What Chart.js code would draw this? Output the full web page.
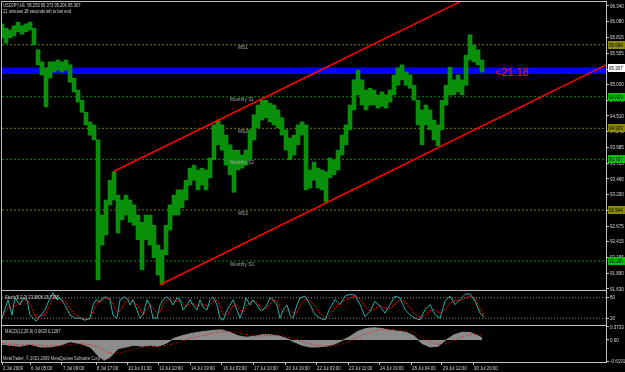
<!DOCTYPE html>
<html>
<head>
<meta charset="utf-8">
<script src="https://cdn.jsdelivr.net/npm/chart.js@4.4.1/dist/chart.umd.min.js"></script>
<style>
html, body { margin: 0; padding: 0; background: #000; }
#wrap { position: relative; width: 625px; height: 372px; background: #000; overflow: hidden; }
canvas { position: absolute; left: 0; }
</style>
</head>
<body>
<div id="wrap">
    <canvas id="mainChart" width="625" height="292" style="top:0px"></canvas>
    <canvas id="stochChart" width="625" height="36" style="top:290px"></canvas>
    <canvas id="macdChart" width="625" height="47" style="top:325px"></canvas>
</div>
<script>
// ---- price (H1 bars, sampled every 4 bars: bar index, high, low) ----
const priceBars = [0,4,8,12,16,20,24,28,32,36,40,44,48,52,56,60,64,68,72,76,80,84,88,92,96,100,104,108,112,116,
    120,124,128,132,136,140,144,148,152,156,160,164,168,172,176,180,184,188,192,196,200,204,208,212,216,220,224,228,232,236,
    240,244,248,252,256,260,264,268,272,276,280,284,288,292,296,300,304,308,312,316,320,324,328,332,336,340,344,348,352,356,
    360,364,368,372,376,380,384,388,392,396,400,404,408,412,416,420,424,428,432,436,440,444,448,452,456,460,464,468,472,476,480];
const priceHigh = [96.04,95.97,95.94,96.01,96.07,96.01,96.04,96.07,95.97,95.61,95.41,95.31,95.41,95.41,95.44,95.41,95.44,95.36,95.14,94.94,
    94.77,94.57,94.41,94.36,94.11,92.86,93.11,93.44,93.58,93.19,93.11,93.19,93.11,93.03,92.86,92.74,92.86,92.86,92.69,92.36,
    92.28,92.69,93.03,93.19,93.28,93.28,93.44,93.64,93.69,93.61,93.64,93.61,93.81,94.36,94.44,94.36,94.19,94.03,93.94,93.94,
    93.86,93.94,94.28,94.53,94.69,94.77,94.77,94.72,94.69,94.61,94.48,94.28,94.14,94.19,94.36,94.41,94.36,93.61,93.74,93.64,
    93.61,93.58,93.81,93.78,93.94,94.19,94.36,94.69,95.11,95.27,95.11,94.94,94.97,94.94,94.86,94.91,94.86,94.94,95.19,95.31,
    95.36,95.24,95.19,95.02,94.77,94.61,94.69,94.61,94.44,94.36,94.77,95.02,95.32,95.11,95.19,95.11,95.52,95.86,95.69,95.61,95.44];
const priceLow = [95.81,95.72,95.81,95.84,95.91,95.87,95.91,95.94,95.69,95.36,95.19,94.66,95.14,95.24,95.27,95.24,95.27,95.07,94.91,94.74,
    94.57,94.36,94.19,94.11,91.78,92.36,92.53,93.03,93.11,92.56,92.78,92.86,92.74,92.69,92.45,91.95,92.45,92.36,92.15,91.86,
    91.70,92.20,92.61,92.86,92.86,92.98,93.11,93.36,93.44,93.28,93.36,93.28,93.48,93.78,94.03,93.94,93.69,93.53,93.24,93.61,
    93.64,93.69,93.78,94.11,94.31,94.44,94.48,94.41,94.36,94.31,94.19,93.94,93.78,93.86,94.03,94.19,93.28,93.31,93.44,93.31,
    93.28,93.08,93.48,93.53,93.61,93.86,94.03,94.28,94.61,94.86,94.69,94.61,94.69,94.69,94.64,94.67,94.64,94.74,94.86,95.02,
    95.11,95.02,94.97,94.77,94.36,94.03,94.36,94.28,94.11,94.01,94.28,94.69,94.86,94.86,94.91,94.86,95.02,95.44,95.41,95.36,95.24];
const lastPrice = 95.307;

// ---- right axis ----
const yTickValues = [96.340,96.080,95.815,95.555,95.290,95.030,94.770,94.510,94.245,93.985,93.725,93.460,93.200,92.935,92.675,92.415,92.155,91.890,91.630];

// ---- monthly pivot levels ----
const levelNames = ["MS1", "Monthly S1", "MS2", "Monthly S2", "MS3", "Monthly S3"];
const levelValues = [95.694, 94.829, 94.303, 93.787, 92.944, 92.095];
const levelKinds = ["ms", "monthly", "ms", "monthly", "ms", "monthly"];

// ---- blue zone and channel ----
const zoneTop = 95.315;
const zoneBottom = 95.207;
const channelUpper = [{ bar: 111, price: 93.58 }, { bar: 604, price: 97.60 }];
const channelLower = [{ bar: 158, price: 91.70 }, { bar: 604, price: 95.36 }];

// ---- time axis ----
const xTickBars = [0, 28, 60, 94, 125, 156, 188, 220, 251, 283, 314, 346, 377, 409, 440, 471];
const xTickLabels = ["2 Jul 2009", "6 Jul 05:00", "7 Jul 09:00", "8 Jul 17:00", "10 Jul 01:00", "13 Jul 10:00",
    "14 Jul 19:00", "16 Jul 03:00", "17 Jul 10:00", "20 Jul 19:00", "22 Jul 03:00", "23 Jul 11:00",
    "24 Jul 19:00", "28 Jul 04:00", "29 Jul 12:00", "30 Jul 20:00"];

// ---- stochastic (5,3,3) ----
const stochBars = [0,6,10,13,18,21,25,28,31,34,43,48,51,55,58,63,68,73,78,83,88,91,94,98,101,104,108,111,115,118,
    123,126,128,131,135,138,141,145,148,151,155,158,161,165,168,171,175,178,181,185,188,191,195,198,201,205,208,211,215,218,
    221,225,228,231,235,238,241,244,248,251,255,258,261,265,268,271,275,278,281,285,288,291,295,298,303,308,313,318,323,328,
    333,338,343,348,353,358,363,368,373,378,383,388,393,398,403,408,413,418,423,428,433,438,443,448,453,458,463,468,473,478,482];
const stochMain = [20,74,29,80,59,80,74,29,20,11,44,80,95,74,80,59,29,20,20,14,20,59,74,68,80,83,74,29,20,74,
    83,74,59,74,44,20,29,74,59,20,20,59,74,83,74,59,80,74,44,59,74,59,44,74,53,44,74,83,59,20,
    14,44,59,74,44,20,44,80,59,74,59,44,44,59,80,74,59,20,44,59,29,20,59,80,85,60,30,20,15,50,
    75,60,85,90,88,60,25,40,70,55,35,60,85,80,45,30,20,15,45,60,30,20,70,85,60,75,90,92,70,35,23];
const stochSignal = [25,50,55,55,65,70,75,60,40,22,30,60,82,82,78,70,48,30,22,18,17,40,60,70,74,78,78,60,40,40,
    65,78,72,68,60,45,30,45,60,50,35,40,60,75,78,70,70,72,62,55,62,64,55,58,62,55,58,70,72,55,
    32,28,40,58,58,45,34,55,66,70,65,55,48,50,62,72,70,50,38,44,42,35,38,60,75,72,55,35,22,28,
    50,65,72,80,85,78,55,40,48,58,50,48,62,75,68,50,32,22,28,42,45,35,45,65,72,72,78,85,78,48,26];
const stochLevels = [20, 80];

// ---- MACD (12,26,9) ----
const macdBars = [0,8,18,28,38,48,58,68,78,88,96,102,108,116,124,132,140,148,156,164,
    172,180,188,196,204,212,220,228,236,244,252,260,268,276,284,292,300,308,316,324,
    332,340,348,356,364,372,380,388,396,404,412,420,428,436,444,452,460,468,476,480];
const macdMain = [-0.12,-0.15,-0.18,-0.12,-0.20,-0.20,-0.15,-0.05,-0.10,-0.20,-0.45,-0.58,-0.50,-0.25,-0.20,-0.15,-0.18,-0.15,-0.18,-0.10,
    0.05,0.12,0.18,0.22,0.25,0.28,0.29,0.22,0.12,0.08,0.10,0.15,0.15,0.12,0.05,-0.05,-0.15,-0.20,-0.20,-0.18,
    -0.12,-0.02,0.10,0.25,0.33,0.35,0.33,0.28,0.25,0.22,0.12,-0.10,-0.20,-0.18,0.00,0.15,0.22,0.22,0.12,0.06];
const macdSignal = [-0.10,-0.12,-0.14,-0.14,-0.15,-0.17,-0.17,-0.13,-0.11,-0.13,-0.20,-0.30,-0.38,-0.38,-0.33,-0.27,-0.22,-0.19,-0.18,-0.16,
    -0.10,-0.03,0.04,0.10,0.15,0.20,0.24,0.25,0.21,0.16,0.12,0.12,0.13,0.13,0.10,0.04,-0.04,-0.11,-0.16,-0.18,
    -0.16,-0.11,-0.03,0.08,0.18,0.26,0.30,0.31,0.29,0.26,0.20,0.08,-0.05,-0.13,-0.10,-0.02,0.08,0.16,0.15,0.13];
const macdTickValues = [0.3733, 0, -0.6191];
const macdTickLabels = ["0.3733", "0.00", "-0.6191"];

const LAST_BAR = 604;
const AXIS_GREY = "#c0c0c0";
const TEXT = "#d8d8d8";

function lineAcross(value) {
    return [{ x: 0, y: value }, { x: LAST_BAR, y: value }];
}

// MetaTrader's tiny, narrow system font: squeeze Liberation Sans horizontally
function smallText(ctx, text, x, y, color, squeeze) {
    ctx.save();
    ctx.translate(x, y);
    ctx.scale(squeeze || 0.7, 1);
    ctx.fillStyle = color;
    ctx.font = "6px 'Liberation Sans', sans-serif";
    ctx.textBaseline = "middle";
    ctx.textAlign = "left";
    ctx.fillText(text, 0, 0);
    ctx.restore();
}

const framePlugin = {
    id: "frame",
    afterDraw(chart) {
        const a = chart.chartArea;
        const ctx = chart.ctx;
        ctx.save();
        ctx.strokeStyle = AXIS_GREY;
        ctx.lineWidth = 1;
        ctx.strokeRect(a.left - 0.5, a.top - 0.5, a.right - a.left + 1, a.bottom - a.top + 1);
        ctx.restore();
    }
};

// right-axis labels drawn from the scale's own ticks
const rightLabels = {
    id: "rightLabels",
    afterDraw(chart, args, opts) {
        const ys = chart.scales.y;
        const ctx = chart.ctx;
        ys.ticks.forEach((t, i) => {
            const text = opts.labels ? opts.labels[i] : t.value.toFixed(3);
            smallText(ctx, text, chart.chartArea.right + 4, ys.getPixelForValue(t.value), TEXT, 0.75);
        });
    }
};

const mainOverlay = {
    id: "mainOverlay",
    afterDraw(chart) {
        const ctx = chart.ctx;
        const xs = chart.scales.x;
        const ys = chart.scales.y;
        const a = chart.chartArea;

        levelNames.forEach((name, i) => {
            const y = ys.getPixelForValue(levelValues[i]) + 3;
            const x = levelKinds[i] === "ms" ? xs.getPixelForValue(236) : xs.getPixelForValue(228);
            smallText(ctx, name, x, y, "#a8a8a8", 0.8);
        });

        const tag = (value, text, bg, fg) => {
            const y = Math.round(ys.getPixelForValue(value));
            ctx.fillStyle = bg;
            ctx.fillRect(a.right + 2, y - 4, 19, 8);
            smallText(ctx, text, a.right + 3, y, fg, 0.75);
        };
        levelValues.forEach((v, i) => {
            tag(v, v.toFixed(3), levelKinds[i] === "ms" ? "#8a8a00" : "#00c000", "#000");
        });
        tag(lastPrice, lastPrice.toFixed(3), "#ffffff", "#000");

        ctx.save();
        ctx.fillStyle = "#ff1a1a";
        ctx.font = "11px 'Liberation Sans', sans-serif";
        ctx.textBaseline = "middle";
        ctx.fillText("<21:18", xs.getPixelForValue(493), ys.getPixelForValue(zoneBottom) - 1);
        ctx.restore();

        smallText(ctx, "USDJPY,H1  95.253 95.373 95.206 95.307", 3, 5, TEXT, 0.68);
        smallText(ctx, "21 minutes 18 seconds left to bar end", 3, 11, TEXT, 0.68);
    }
};

const xScaleHidden = { type: "linear", min: 0, max: LAST_BAR, offset: false, display: false };

function rightAxis(min, max, values) {
    return {
        position: "right", min: min, max: max,
        afterFit: s => { s.width = 19; },
        afterBuildTicks: s => { s.ticks = values.map(v => ({ value: v })); },
        ticks: { display: false },
        grid: { drawOnChartArea: false, color: AXIS_GREY, tickLength: 3 },
        border: { color: AXIS_GREY }
    };
}

new Chart(document.getElementById("mainChart"), {
    data: {
        datasets: [
            {
                type: "line", data: lineAcross(zoneTop), borderWidth: 0, pointRadius: 0,
                backgroundColor: "#0000ff", fill: "+1", order: 5
            },
            { type: "line", data: lineAcross(zoneBottom), borderWidth: 0, pointRadius: 0, fill: false, order: 5 },
            ...levelValues.map((v, i) => ({
                type: "line", data: lineAcross(v), pointRadius: 0, borderWidth: 1,
                borderColor: levelKinds[i] === "ms" ? "#7a7a00" : "#009000",
                borderDash: [2, 2], order: 4
            })),
            {
                type: "bar",
                data: priceBars.map((b, i) => ({ x: b, y: [priceLow[i], priceHigh[i]] })),
                backgroundColor: "#0a8f0a", barThickness: 4, order: 2
            },
            {
                type: "line", data: channelUpper.map(p => ({ x: p.bar, y: p.price })),
                borderColor: "#ff0000", borderWidth: 1.5, pointRadius: 0, order: 1
            },
            {
                type: "line", data: channelLower.map(p => ({ x: p.bar, y: p.price })),
                borderColor: "#ff0000", borderWidth: 1.5, pointRadius: 0, order: 1
            }
        ]
    },
    options: {
        responsive: false,
        animation: false,
        layout: { padding: { left: 2, top: 2, right: 0, bottom: 2 } },
        plugins: { legend: { display: false }, tooltip: { enabled: false } },
        scales: {
            x: xScaleHidden,
            y: rightAxis(91.613, 96.405, yTickValues)
        }
    },
    plugins: [framePlugin, rightLabels, mainOverlay]
});

new Chart(document.getElementById("stochChart"), {
    data: {
        datasets: [
            ...stochLevels.map(v => ({
                type: "line", data: lineAcross(v), borderColor: "#8a8a8a", borderWidth: 1,
                borderDash: [1, 2], pointRadius: 0
            })),
            {
                type: "line", data: stochBars.map((b, i) => ({ x: b, y: stochMain[i] })),
                borderColor: "#20b2aa", borderWidth: 1, pointRadius: 0
            },
            {
                type: "line", data: stochBars.map((b, i) => ({ x: b, y: stochSignal[i] })),
                borderColor: "#ff0000", borderWidth: 1, borderDash: [2, 1], pointRadius: 0
            }
        ]
    },
    options: {
        responsive: false,
        animation: false,
        layout: { padding: { left: 2, top: 1, right: 0, bottom: 1 } },
        plugins: {
            legend: { display: false }, tooltip: { enabled: false },
            rightLabels: { labels: ["80", "20"] }
        },
        scales: {
            x: xScaleHidden,
            y: rightAxis(0, 100, [80, 20])
        }
    },
    plugins: [framePlugin, rightLabels, {
        id: "stochLabel",
        afterDraw(chart) {
            smallText(chart.ctx, "Stoch(5,3,3) 23.0806 25.7365", 5, chart.chartArea.top + 6, TEXT, 0.68);
        }
    }]
});

new Chart(document.getElementById("macdChart"), {
    data: {
        datasets: [
            {
                type: "line", data: macdBars.map((b, i) => ({ x: b, y: macdMain[i] })),
                borderColor: "#8c8c8c", borderWidth: 1, backgroundColor: "#8c8c8c",
                fill: "origin", pointRadius: 0, order: 2
            },
            {
                type: "line", data: macdBars.map((b, i) => ({ x: b, y: macdSignal[i] })),
                borderColor: "#ff0000", borderWidth: 1, borderDash: [1, 2], pointRadius: 0, order: 1
            }
        ]
    },
    options: {
        responsive: false,
        animation: false,
        layout: { padding: { left: 2, top: 1, right: 0, bottom: 0 } },
        plugins: {
            legend: { display: false }, tooltip: { enabled: false },
            rightLabels: { labels: macdTickLabels }
        },
        scales: {
            x: {
                type: "linear", min: 0, max: LAST_BAR, offset: false,
                afterFit: s => { s.height = 10; },
                afterBuildTicks: s => { s.ticks = xTickBars.map(v => ({ value: v })); },
                ticks: { display: false },
                grid: { drawOnChartArea: false, color: AXIS_GREY, tickLength: 3 },
                border: { color: AXIS_GREY }
            },
            y: rightAxis(-0.633, 0.402, macdTickValues)
        }
    },
    plugins: [framePlugin, rightLabels, {
        id: "macdLabels",
        afterDraw(chart) {
            const ctx = chart.ctx;
            const xs = chart.scales.x;
            smallText(ctx, "MACD(12,26,9) 0.0633 0.1267", 5, chart.chartArea.top + 5, TEXT, 0.68);
            smallText(ctx, "MetaTrader, \u00a9 2001-2009 MetaQuotes Software Corp.", 3, chart.chartArea.bottom - 4, "#c8c8c8", 0.68);
            xs.ticks.forEach((t, i) => {
                smallText(ctx, xTickLabels[i], xs.getPixelForValue(t.value) + 1, chart.chartArea.bottom + 6, TEXT, 0.72);
            });
        }
    }]
});
</script>
</body>
</html>
